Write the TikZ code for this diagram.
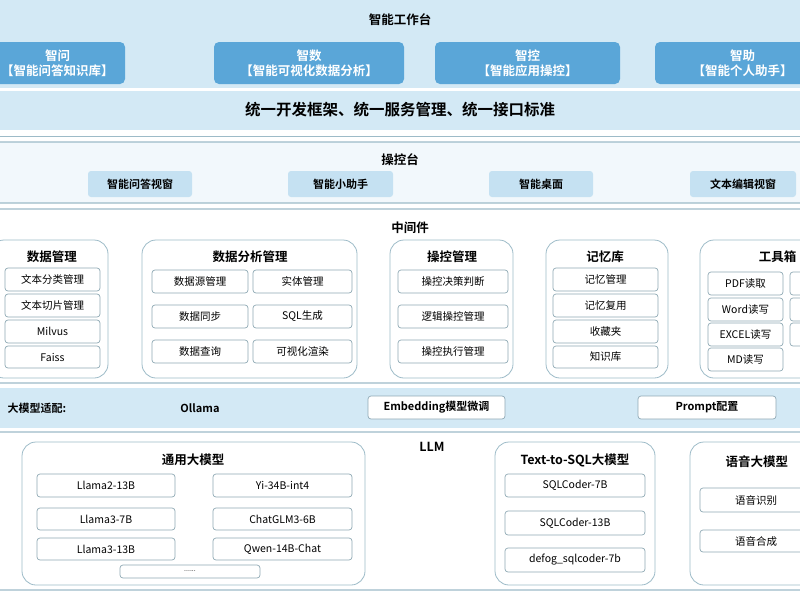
\documentclass[tikz,border=0pt]{standalone}
\usepackage{fontspec}
\setmainfont{Noto Sans CJK SC}
\newfontfamily\cjkb{Noto Sans CJK SC Bold}
\begin{document}
\begin{tikzpicture}[x=1pt,y=-1pt,
  band/.style={fill=bandblue,draw=none},
  frame/.style={draw=frameC,line width=1.2pt,rounded corners=6pt,fill=white},
  grp/.style={draw=frameC,line width=0.8pt,rounded corners=14pt,fill=white},
  item/.style={draw=itemC,line width=0.7pt,rounded corners=3pt,fill=white,font=\fontsize{10.5}{12}\selectfont,inner sep=0pt},
  pill/.style={fill=pillC,rounded corners=3pt,font=\cjkb\fontsize{11}{12}\selectfont,inner sep=0pt},
  top/.style={fill=topC,rounded corners=5pt,text=white,font=\cjkb\fontsize{12.5}{15}\selectfont,align=center,inner sep=0pt},
  ttl/.style={font=\cjkb\fontsize{12.5}{14}\selectfont}]
\definecolor{bandblue}{HTML}{D3E9F5}
\definecolor{topC}{HTML}{5AA6D8}
\definecolor{frameC}{HTML}{9DBBC8}
\definecolor{itemC}{HTML}{8FA9B5}
\definecolor{pillC}{HTML}{C5E1F2}
\newcommand\bx[7]{\node[#1,minimum width=#4-#2,minimum height=#5-#3] (#7) at ({(#2+#4)/2},{(#3+#5)/2}) {#6};}
\useasboundingbox (0,0) rectangle (800,600);
\clip (0,0) rectangle (800,600);
\fill[white] (0,0) rectangle (800,600);
% top bands
\fill[band] (0,0) rectangle (800,88);
\node[ttl] (t1) at (400,20) {智能工作台};
\bx{top}{-10}{42}{125}{84}{智问\\【智能问答知识库】}{a1}
\bx{top}{214}{42}{404}{84}{智数\\【智能可视化数据分析】}{a2}
\bx{top}{435}{42}{620}{84}{智控\\【智能应用操控】}{a3}
\bx{top}{655}{42}{830}{84}{智助\\【智能个人助手】}{a4}
\fill[band] (0,91) rectangle (800,130);
\node[font=\cjkb\fontsize{15.5}{17}\selectfont] (t2) at (400,110) {统一开发框架、统一服务管理、统一接口标准};
% console
\draw[frameC,line width=1pt] (-5,136) -- (805,136);
\draw[frame,fill=bandblue!30] (-10,142) rectangle (810,203);
\node[ttl] (t3) at (400,160) {操控台};
\bx{pill}{88}{171}{192}{197}{智能问答视窗}{c1}
\bx{pill}{288}{171}{393}{197}{智能小助手}{c2}
\bx{pill}{489}{171}{593}{197}{智能桌面}{c3}
\bx{pill}{690}{171}{796}{197}{文本编辑视窗}{c4}
% middleware
\draw[frame] (-10,209) rectangle (810,383);
\node[ttl] (t4) at (410,228) {中间件};
\draw[grp] (-10,240) rectangle (108,378);
\node[ttl] (g1) at (52,257) {数据管理};
\bx{item}{5}{268}{100}{291}{文本分类管理}{d1}
\bx{item}{5}{294}{100}{317}{文本切片管理}{d2}
\bx{item}{5}{320}{100}{343}{Milvus}{d3}
\bx{item}{5}{346}{100}{368}{Faiss}{d4}
\draw[grp] (142,240) rectangle (357,378);
\node[ttl] (g2) at (250,257) {数据分析管理};
\bx{item}{152}{270}{248}{293}{数据源管理}{e1}
\bx{item}{253}{270}{352}{293}{实体管理}{e2}
\bx{item}{152}{305}{248}{328}{数据同步}{e3}
\bx{item}{253}{305}{352}{328}{SQL生成}{e4}
\bx{item}{152}{340}{248}{363}{数据查询}{e5}
\bx{item}{253}{340}{352}{363}{可视化渲染}{e6}
\draw[grp] (390,240) rectangle (513,378);
\node[ttl] (g3) at (452,257) {操控管理};
\bx{item}{398}{270}{508}{293}{操控决策判断}{f1}
\bx{item}{398}{305}{508}{328}{逻辑操控管理}{f2}
\bx{item}{398}{340}{508}{363}{操控执行管理}{f3}
\draw[grp] (546,240) rectangle (668,378);
\node[ttl] (g4) at (605,257) {记忆库};
\bx{item}{553}{268}{658}{291}{记忆管理}{h1}
\bx{item}{553}{294}{658}{317}{记忆复用}{h2}
\bx{item}{553}{320}{658}{343}{收藏夹}{h3}
\bx{item}{553}{346}{658}{368}{知识库}{h4}
\draw[grp] (700,240) rectangle (830,378);
\node[ttl,anchor=east] (g5) at (800,257) {工具箱};
\bx{item}{708}{272}{783}{295}{PDF读取}{k1}
\bx{item}{708}{298}{783}{321}{Word读写}{k2}
\bx{item}{708}{323}{783}{346}{EXCEL读写}{k3}
\bx{item}{708}{348}{783}{371}{MD读写}{k4}
\bx{item}{790}{272}{830}{295}{}{k5}
\bx{item}{790}{298}{830}{321}{}{k6}
\bx{item}{790}{323}{830}{346}{}{k7}
% adaptation
\fill[band] (0,388) rectangle (800,428);
\node[font=\cjkb\fontsize{11}{12}\selectfont,anchor=west] (m0) at (4,408) {大模型适配:};
\node[font=\cjkb\fontsize{11}{12}\selectfont] (m1) at (200,408) {Ollama};
\bx{item,font=\cjkb\fontsize{11}{12}\selectfont}{368}{396}{505}{419}{Embedding模型微调}{m2}
\bx{item,font=\cjkb\fontsize{11}{12}\selectfont}{638}{396}{776}{419}{Prompt配置}{m3}
% LLM
\draw[frame] (-10,432) rectangle (810,590);
\node[ttl] (t5) at (432,447) {LLM};
\draw[grp] (22,442) rectangle (365,585);
\node[ttl] (l1) at (193,460) {通用大模型};
\bx{item}{37}{474}{175}{497}{Llama2-13B}{n1}
\bx{item}{213}{474}{352}{497}{Yi-34B-int4}{n2}
\bx{item}{37}{508}{175}{530}{Llama3-7B}{n3}
\bx{item}{213}{508}{352}{530}{ChatGLM3-6B}{n4}
\bx{item}{37}{538}{175}{560}{Llama3-13B}{n5}
\bx{item}{213}{538}{352}{560}{Qwen-14B-Chat}{n6}
\bx{item,font=\fontsize{7}{8}\selectfont}{120}{565}{260}{578}{......}{n7}
\draw[grp] (495,442) rectangle (655,585);
\node[ttl] (l2) at (575,460) {Text-to-SQL大模型};
\bx{item}{505}{474}{645}{497}{SQLCoder-7B}{p1}
\bx{item}{505}{511}{645}{535}{SQLCoder-13B}{p2}
\bx{item}{505}{548}{645}{572}{defog\_sqlcoder-7b}{p3}
\draw[grp] (690,442) rectangle (830,585);
\node[ttl,anchor=west] (l3) at (722,462) {语音大模型};
\bx{item}{700}{488}{812}{512}{语音识别}{q1}
\bx{item}{700}{530}{812}{552}{语音合成}{q2}
\end{tikzpicture}
\end{document}
